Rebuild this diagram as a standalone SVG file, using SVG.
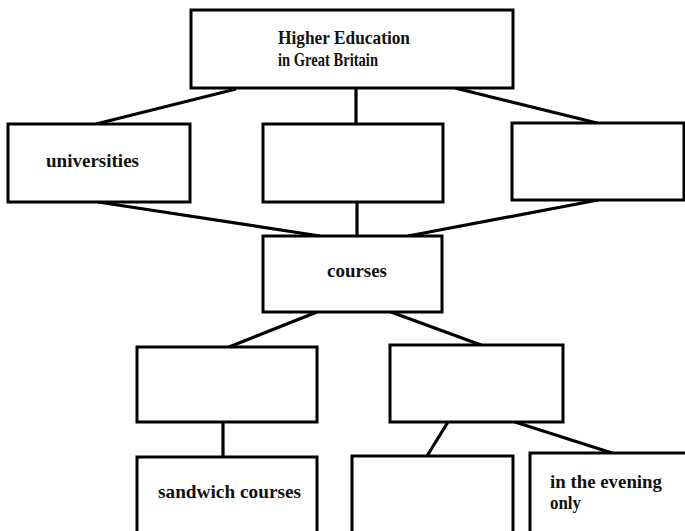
<svg xmlns="http://www.w3.org/2000/svg" width="685" height="531" viewBox="0 0 685 531">
<style>
  .box { fill: #ffffff; stroke: #000000; stroke-width: 3; }
  .con { stroke: #000000; stroke-width: 3.2; fill: none; stroke-linecap: butt; }
  .lbl { font-family: "Liberation Serif", "Times New Roman", serif; font-size: 19px; font-weight: bold; fill: #111111; }
</style>
<rect x="0" y="0" width="685" height="531" fill="#ffffff"/>
<g id="connectors">
  <line class="con" x1="236" y1="89" x2="96" y2="124"/>
  <line class="con" x1="356" y1="88" x2="356" y2="124"/>
  <line class="con" x1="455" y1="88" x2="597" y2="123"/>
  <line class="con" x1="98" y1="202" x2="320" y2="236"/>
  <line class="con" x1="357" y1="202" x2="357" y2="236"/>
  <line class="con" x1="598" y1="200" x2="408" y2="236"/>
  <line class="con" x1="317" y1="312" x2="229" y2="347"/>
  <line class="con" x1="391" y1="312" x2="481" y2="345"/>
  <line class="con" x1="223" y1="422" x2="223" y2="457"/>
  <line class="con" x1="448" y1="422" x2="427" y2="456"/>
  <line class="con" x1="515" y1="422" x2="612" y2="453"/>
</g>
<g id="n-top">
  <rect class="box" x="191" y="10" width="322" height="78"/>
  <text class="lbl" x="278" y="44" textLength="132" lengthAdjust="spacingAndGlyphs">Higher Education</text>
  <text class="lbl" x="278" y="66" textLength="100" lengthAdjust="spacingAndGlyphs">in Great Britain</text>
</g>
<g id="n-universities">
  <rect class="box" x="8" y="124" width="182" height="78"/>
  <text class="lbl" x="46" y="167" textLength="93" lengthAdjust="spacingAndGlyphs">universities</text>
</g>
<g id="n-middle">
  <rect class="box" x="263" y="124" width="180" height="78"/>
</g>
<g id="n-right">
  <rect class="box" x="512" y="123" width="172" height="77"/>
</g>
<g id="n-courses">
  <rect class="box" x="263" y="236" width="179" height="76"/>
  <text class="lbl" x="327" y="277" textLength="60" lengthAdjust="spacingAndGlyphs">courses</text>
</g>
<g id="n-row3-left">
  <rect class="box" x="137" y="347" width="180" height="75"/>
</g>
<g id="n-row3-right">
  <rect class="box" x="390" y="345" width="173" height="77"/>
</g>
<g id="n-sandwich">
  <rect class="box" x="137" y="457" width="180" height="90"/>
  <text class="lbl" x="158" y="498" textLength="143" lengthAdjust="spacingAndGlyphs">sandwich courses</text>
</g>
<g id="n-row4-middle">
  <rect class="box" x="352" y="456" width="161" height="90"/>
</g>
<g id="n-evening">
  <rect class="box" x="530" y="453" width="170" height="90"/>
  <text class="lbl" x="550" y="488" textLength="112" lengthAdjust="spacingAndGlyphs">in the evening</text>
  <text class="lbl" x="550" y="509" textLength="31" lengthAdjust="spacingAndGlyphs">only</text>
</g>
</svg>
